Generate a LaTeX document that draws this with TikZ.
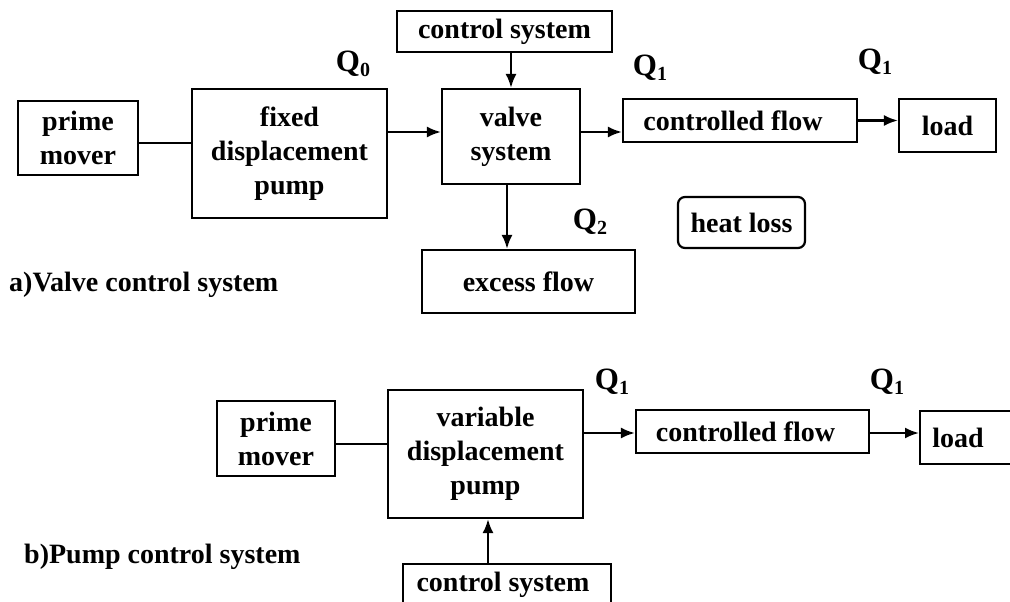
\documentclass[tikz,border=0pt]{standalone}
\usepackage{fontspec}
\setmainfont{Liberation Serif}
\usetikzlibrary{arrows.meta}
\newcommand{\Qlab}[1]{Q\raisebox{-0.32ex}{\fontsize{20}{20}\selectfont #1}}
\begin{document}
\begin{tikzpicture}[x=1pt,y=-1pt,
  font=\fontsize{28}{34}\selectfont\bfseries,
  box/.style={draw, line width=2.2pt, inner sep=0pt, align=center, minimum width=#1},
  conn/.style={line width=2.2pt},
  arr/.style={line width=2.2pt, -{Latex[length=14pt,width=11pt]}},
  qlab/.style={inner sep=0pt, font=\fontsize{31}{34}\selectfont\bfseries}]
\useasboundingbox (0,0) rectangle (1010,602);
% ---------- a) valve control ----------
\node[box=120, minimum height=74] (pm1) at (78,138) {prime\\mover};
\node[box=195, minimum height=129] (fdp) at (289.5,153.5) {fixed\\displacement\\pump};
\node[box=215, minimum height=41] (cs1) at (504.5,31.5) {control system};
\node[box=138, minimum height=95] (vs) at (511,136.5) {valve\\system};
\node[box=234, minimum height=43] (cf1) at (740,120.5) {\hspace*{-14pt}controlled flow};
\node[box=97, minimum height=53] (ld1) at (947.5,125.5) {load};
\node[box=213, minimum height=63] (ef) at (528.5,281.5) {excess flow};
\node[box=127, minimum height=51, rounded corners=7pt] (hl) at (741.5,222.5) {heat loss};
\node[qlab] (q0) at (353,64) {\Qlab{0}};
\node[qlab] (q1a) at (650,68) {\Qlab{1}};
\node[qlab] (q1b) at (875,62) {\Qlab{1}};
\node[qlab] (q2) at (590,222) {\Qlab{2}};
\node[qlab, anchor=west, font=\fontsize{28}{34}\selectfont\bfseries] (ta) at (9,285) {a)Valve control system};
\coordinate (p1) at (0,143);
\coordinate (p2) at (0,132);
\coordinate (p3) at (507,0);
\draw[conn] (pm1.east |- p1) -- (fdp.west |- p1);
\draw[arr] (fdp.east |- p2) -- (vs.west |- p2);
\draw[arr] (vs.north |- cs1.south) -- (vs.north);
\draw[arr] (vs.east |- p2) -- (cf1.west |- p2);
\draw[arr] (cf1.east) -- (ld1.west |- cf1.east);
\draw[arr] (vs.south -| p3) -- (ef.north -| p3);
% ---------- b) pump control ----------
\node[box=118, minimum height=75] (pm2) at (276,438.5) {prime\\mover};
\node[box=195, minimum height=128] (vdp) at (485.5,454) {variable\\displacement\\pump};
\node[box=208, minimum height=42, anchor=north] (cs2) at (507,563) {\hspace*{-8pt}control system};
\node[box=233, minimum height=43] (cf2) at (752.5,431.5) {\hspace*{-14pt}controlled flow};
\node[box=96, minimum height=53, anchor=north west] (ld2) at (919,410) {\hspace*{-20pt}load};
\node[qlab] (q1c) at (612,382) {\Qlab{1}};
\node[qlab] (q1d) at (887,382) {\Qlab{1}};
\node[qlab, anchor=west, font=\fontsize{28}{34}\selectfont\bfseries] (tb) at (24,557) {b)Pump control system};
\coordinate (p4) at (0,444);
\coordinate (p5) at (0,433);
\coordinate (p6) at (488,0);
\draw[conn] (pm2.east |- p4) -- (vdp.west |- p4);
\draw[arr] (vdp.east |- p5) -- (cf2.west |- p5);
\draw[arr] (cf2.east |- p5) -- (ld2.west |- p5);
\draw[arr] (cs2.north -| p6) -- (vdp.south -| p6);
\end{tikzpicture}
\end{document}
